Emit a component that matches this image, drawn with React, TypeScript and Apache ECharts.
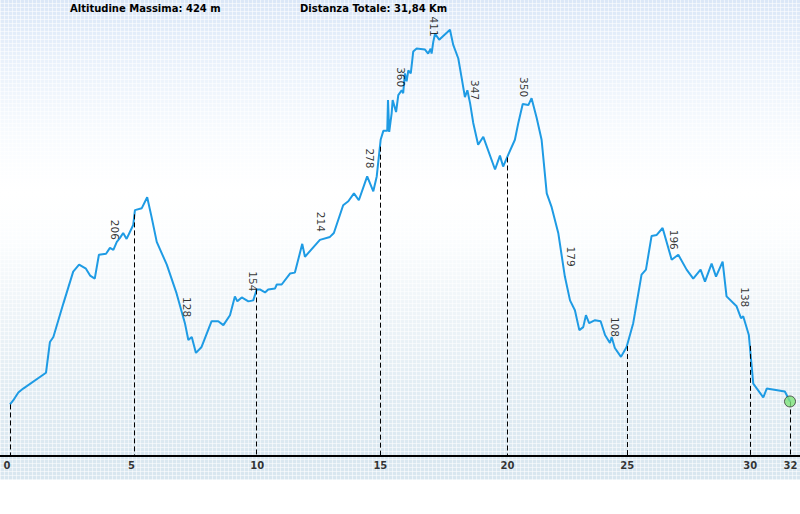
import React, { useEffect, useRef } from "react";
import * as echarts from "echarts";

// Elevation profile: [distance km, altitude m]
const profile: [number, number][] = [
  [0, 46], [0.13, 50], [0.34, 58], [0.54, 62], [1.47, 78], [1.63, 109], [1.77, 114], [2.18, 148],
  [2.58, 180], [2.82, 187], [3.1, 183], [3.27, 176], [3.46, 173], [3.63, 197], [3.92, 198], [4.08, 204],
  [4.22, 202], [4.36, 210], [4.49, 214], [4.62, 219], [4.76, 213], [5.03, 227], [5.1, 242], [5.38, 244],
  [5.6, 255], [5.78, 235], [5.99, 210], [6.4, 187], [6.8, 158], [7.14, 128], [7.28, 111], [7.42, 114],
  [7.59, 98], [7.82, 104], [8.23, 130], [8.5, 130], [8.71, 126], [8.98, 136], [9.18, 155], [9.28, 150],
  [9.46, 154], [9.73, 150], [9.93, 151], [10.07, 162], [10.2, 162], [10.41, 159], [10.54, 162], [10.82, 163],
  [10.89, 167], [11.09, 167], [11.43, 178], [11.63, 179], [11.93, 208], [12.04, 195], [12.65, 212], [13.06, 215],
  [13.22, 219], [13.6, 247], [13.81, 251], [14.04, 259], [14.24, 252], [14.58, 276], [14.83, 261], [14.97, 276],
  [15.13, 313], [15.24, 322], [15.4, 322], [15.43, 353], [15.48, 321], [15.58, 340], [15.62, 353], [15.76, 341],
  [15.85, 358], [15.99, 363], [16.05, 360], [16.12, 380], [16.19, 372], [16.26, 383], [16.36, 380], [16.46, 402],
  [16.6, 405], [16.94, 404], [17.07, 400], [17.17, 405], [17.21, 400], [17.28, 412], [17.35, 420], [17.52, 414],
  [17.96, 424], [18.09, 409], [18.3, 395], [18.44, 375], [18.57, 356], [18.67, 363], [18.78, 350], [18.91, 330],
  [19.11, 308], [19.32, 316], [19.8, 283], [20.0, 297], [20.13, 286], [20.34, 298], [20.61, 313], [20.75, 330],
  [20.93, 349], [21.16, 348], [21.29, 355], [21.5, 335], [21.7, 313], [21.91, 259], [22.11, 245], [22.38, 219],
  [22.65, 175], [22.86, 151], [23.06, 141], [23.24, 121], [23.4, 124], [23.51, 136], [23.64, 128], [23.88, 131],
  [24.11, 130], [24.29, 116], [24.49, 108], [24.56, 114], [24.69, 103], [24.94, 94], [25.17, 104], [25.44, 128],
  [25.51, 138], [25.78, 177], [25.96, 182], [26.19, 216], [26.4, 217], [26.64, 224], [27.01, 192], [27.28, 197],
  [27.62, 182], [27.89, 173], [28.19, 182], [28.37, 170], [28.64, 188], [28.82, 175], [29.09, 190], [29.25, 155],
  [29.66, 145], [29.84, 133], [29.93, 135], [30.16, 116], [30.34, 67], [30.75, 53], [30.89, 62], [31.63, 59],
  [31.84, 49],
];

// Distance markers (dashed lines) and their labels
const markerKm = [0, 5.08, 10.07, 15.1, 20.29, 25.18, 30.2, 31.84];
const markerText = ["0", "5", "10", "15", "20", "25", "30", "32"];

// Altitude annotations along the profile: [km, altitude]
const altLabels: [number, number][] = [
  [4.29, 206], [7.22, 128], [9.9, 154], [12.69, 214], [14.69, 278], [15.96, 360], [17.29, 411],
  [19.0, 347], [20.98, 350], [22.88, 179], [24.69, 108], [27.1, 196], [30.02, 138],
];

const headerLeft = "Altitudine Massima: 424 m";
const headerRight = "Distanza Totale: 31,84 Km";

const Y_MIN = -6;
const Y_MAX = 454;
const X_MAX = 31.84;

function altAt(km: number): number {
  for (let i = 1; i < profile.length; i++) {
    const [x0, y0] = profile[i - 1];
    const [x1, y1] = profile[i];
    if (km >= x0 && km <= x1) {
      if (x1 === x0) return y1;
      return y0 + ((y1 - y0) * (km - x0)) / (x1 - x0);
    }
  }
  return profile[profile.length - 1][1];
}

export default function App() {
  const ref = useRef<HTMLDivElement>(null);

  useEffect(() => {
    if (!ref.current) return;
    const chart = echarts.init(ref.current, undefined, { renderer: "svg" });
    const endPt = profile[profile.length - 1];
    chart.setOption({
      animation: false,
      backgroundColor: "transparent",
      grid: { left: 10, right: 10, top: 0, bottom: 58 },
      xAxis: {
        type: "value",
        min: 0,
        max: X_MAX,
        axisLine: { show: false },
        axisTick: { show: false },
        axisLabel: { show: false },
        splitLine: { show: false },
      },
      yAxis: {
        type: "value",
        min: Y_MIN,
        max: Y_MAX,
        show: false,
        splitLine: { show: false },
      },
      graphic: [
        {
          type: "line",
          shape: { x1: 0, y1: 456, x2: 800, y2: 456 },
          style: { stroke: "#000", lineWidth: 2 },
          z: 10,
        },
        {
          type: "text",
          left: 70,
          top: 3,
          style: {
            text: headerLeft,
            font: "bold 10px 'DejaVu Sans'",
            fill: "#000",
          },
        },
        {
          type: "text",
          left: 300,
          top: 3,
          style: {
            text: headerRight,
            font: "bold 10px 'DejaVu Sans'",
            fill: "#000",
          },
        },
      ],
      series: [
        {
          type: "line",
          data: profile,
          showSymbol: false,
          symbol: "none",
          clip: false,
          lineStyle: { color: "#1e9be4", width: 2 },
          z: 3,
          markLine: {
            silent: true,
            symbol: "none",
            label: { show: false },
            lineStyle: { color: "#000", type: [5, 3], width: 1 },
            data: markerKm.map((km) => [
              { coord: [km, altAt(km)] },
              { coord: [km, Y_MIN] },
            ]),
          },
        },
        {
          type: "scatter",
          data: altLabels.map(([km, v]) => [km, v]),
          symbolSize: 0,
          silent: true,
          z: 4,
          label: {
            show: true,
            position: "top",
            distance: 6,
            rotate: -90,
            align: "right",
            verticalAlign: "middle",
            formatter: (p: any) => String(p.value[1]),
            color: "#000",
            fontSize: 10.5,
            fontFamily: "DejaVu Sans",
          },
        },
        {
          type: "scatter",
          data: markerKm.map((km) => [km, Y_MIN]),
          symbolSize: 0,
          silent: true,
          clip: false,
          label: {
            show: true,
            position: "bottom",
            distance: 4,
            align: "left",
            offset: [-6.5, 0],
            formatter: (p: any) => markerText[p.dataIndex],
            color: "#000",
            fontSize: 10,
            fontWeight: "bold",
            fontFamily: "DejaVu Sans",
          },
        },
        {
          type: "scatter",
          data: [endPt],
          symbol: "circle",
          symbolSize: 11,
          clip: false,
          z: 5,
          itemStyle: { color: "#7fe47a", borderColor: "#333", borderWidth: 1 },
        },
      ],
    });
    return () => chart.dispose();
  }, []);

  const bg =
    "repeating-linear-gradient(0deg, rgba(255,255,255,0.55) 0px, rgba(255,255,255,0.55) 1px, rgba(255,255,255,0) 1px, rgba(255,255,255,0) 4px)," +
    "repeating-linear-gradient(90deg, rgba(255,255,255,0.55) 0px, rgba(255,255,255,0.55) 1px, rgba(255,255,255,0) 1px, rgba(255,255,255,0) 4px)," +
    "linear-gradient(180deg, #dbe7f7 0%, #e9f1fb 12%, #f8fbfe 28%, #ffffff 40%, #fbfdfe 50%, #eef4f8 65%, #e1ecf3 82%, #d8e6ef 100%)";

  return (
    <div style={{ position: "fixed", left: 0, top: 0, width: 800, height: 514, background: "#fff" }}>
      <div style={{ position: "absolute", left: 0, top: 0, width: 800, height: 480, background: bg }} />
      <div ref={ref} style={{ position: "absolute", left: 0, top: 0, width: 800, height: 514 }} />
    </div>
  );
}
